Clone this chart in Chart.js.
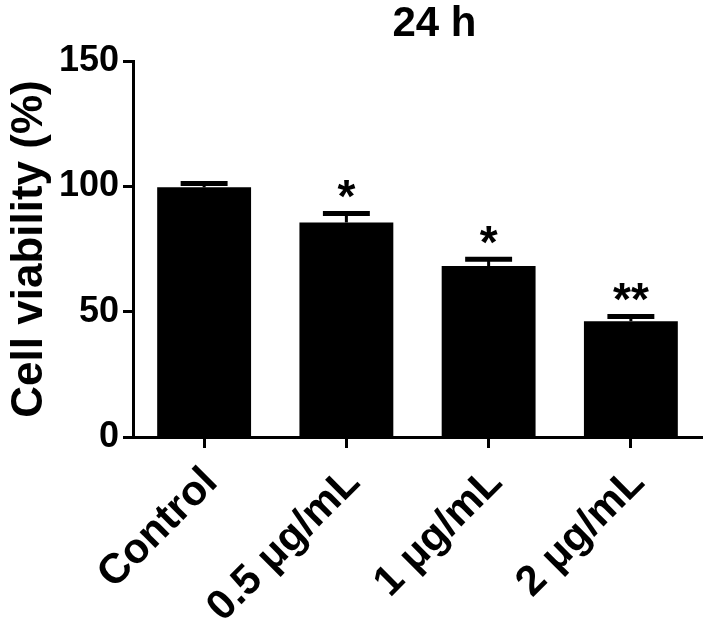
<!DOCTYPE html>
<html>
<head>
<meta charset="utf-8">
<script src="https://cdn.jsdelivr.net/npm/chart.js@4/dist/chart.umd.min.js"></script>
<style>
	html, body { margin: 0; padding: 0; background: #fff; }
	#wrap { width: 709px; height: 626px; }
</style>
</head>
<body>
<div id="wrap"><canvas id="chart_main" width="709" height="626"></canvas></div>
<script>
//chart data----------------
const chartTitle = "24 h";
const yTitle = "Cell viability (%)";
const categories = ["Control", "0.5 μg/mL", "1 μg/mL", "2 μg/mL"];
const viability = [99.6, 85.6, 68.2, 46.2];
const sem = [1.5, 3.6, 2.7, 1.9];
const stars = ["", "*", "*", "**"];
const yTicks = [0, 50, 100, 150];

const fontFamily = "'Liberation Sans', Arial, sans-serif";

//error bars, significance stars and title drawn on top of bars
const overlayPlugin = {
	id: 'overlay',
	afterDatasetsDraw: function (chart) {
		var ctx = chart.ctx;
		var yScale = chart.scales.y;
		var bars = chart.getDatasetMeta(0).data;
		ctx.save();
		ctx.strokeStyle = '#000';
		ctx.fillStyle = '#000';
		for (var i = 0; i < bars.length; i++) {
			var bar = bars[i];
			var yMean = yScale.getPixelForValue(viability[i]);
			var yTop = yScale.getPixelForValue(viability[i] + sem[i]);
			var capHalf = bar.width / 4;

			//stem
			ctx.lineWidth = 3;
			ctx.beginPath();
			ctx.moveTo(bar.x, yMean);
			ctx.lineTo(bar.x, yTop);
			ctx.stroke();

			//cap
			ctx.lineWidth = 5;
			ctx.beginPath();
			ctx.moveTo(bar.x - capHalf, yTop);
			ctx.lineTo(bar.x + capHalf, yTop);
			ctx.stroke();

			//stars
			if (stars[i]) {
				ctx.font = "bold 46px " + fontFamily;
				ctx.textAlign = 'center';
				ctx.textBaseline = 'alphabetic';
				ctx.fillText(stars[i], bar.x, yTop - 1);
			}
		}
		ctx.restore();
	},
	afterDraw: function (chart) {
		var ctx = chart.ctx;
		var area = chart.chartArea;
		ctx.save();
		ctx.fillStyle = '#000';
		ctx.font = "bold 42px " + fontFamily;
		ctx.textAlign = 'center';
		ctx.textBaseline = 'middle';
		ctx.fillText(chartTitle, (area.left + area.right) / 2 + 17, 24);
		ctx.restore();
	}
};

const data = {
	labels: categories,
	datasets: [{
		label: 'Cell viability',
		data: viability,
		backgroundColor: '#000',
		borderWidth: 0,
		categoryPercentage: 1.0,
		barPercentage: 0.66
	}]
};

const config = {
	type: 'bar',
	data: data,
	plugins: [overlayPlugin],
	options: {
		responsive: false,
		animation: false,
		devicePixelRatio: 1,
		layout: {
			padding: { top: 61, right: 7, left: 0, bottom: 0 }
		},
		plugins: {
			legend: { display: false },
			title: { display: false },
			tooltip: { enabled: false }
		},
		scales: {
			x: {
				offset: true,
				grid: {
					offset: false,
					drawOnChartArea: false,
					drawTicks: true,
					tickLength: 11,
					tickWidth: 3,
					tickColor: '#000'
				},
				border: { display: true, color: '#000', width: 3 },
				ticks: {
					color: '#000',
					autoSkip: false,
					maxRotation: 45,
					minRotation: 45,
					padding: 10,
					labelOffset: 7,
					font: { size: 42, weight: 'bold', family: fontFamily }
				},
				afterFit: function (scale) { scale.height = 189; }
			},
			y: {
				min: 0,
				max: 150,
				afterBuildTicks: function (scale) {
					scale.ticks = yTicks.map(function (v) { return { value: v }; });
				},
				grid: {
					drawOnChartArea: false,
					drawTicks: true,
					tickLength: 10,
					tickWidth: 3,
					tickColor: '#000'
				},
				border: { display: true, color: '#000', width: 3 },
				ticks: {
					color: '#000',
					padding: 4,
					font: { size: 36, weight: 'bold', family: fontFamily }
				},
				title: {
					display: true,
					text: yTitle,
					color: '#000',
					padding: { top: 3, bottom: 0 },
					font: { size: 44, weight: 'bold', family: fontFamily }
				},
				afterFit: function (scale) { scale.width = 133; }
			}
		}
	}
};

window.onload = function () {
	new Chart(document.getElementById('chart_main'), config);
};
</script>
</body>
</html>
